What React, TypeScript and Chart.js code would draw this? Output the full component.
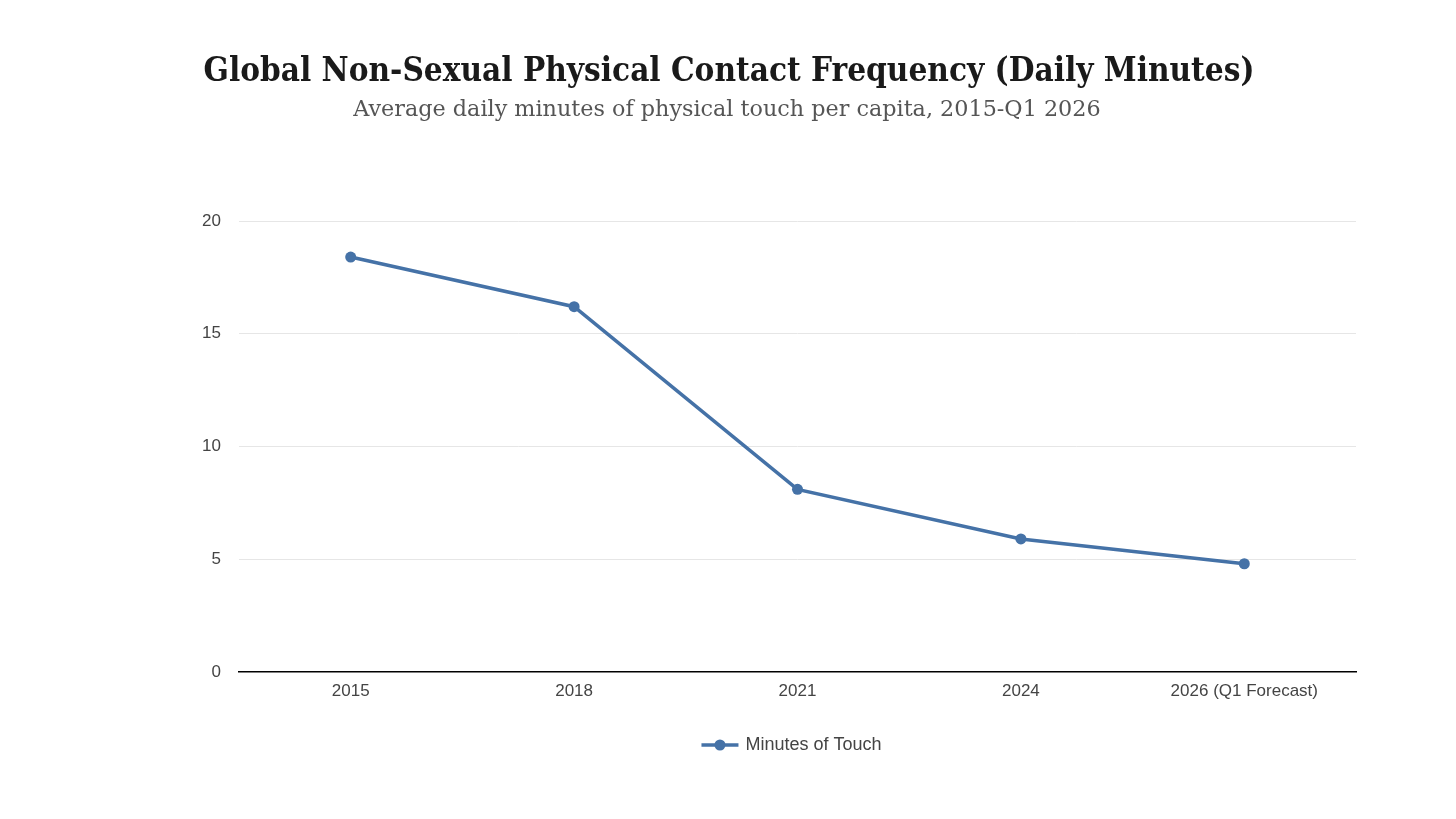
import React, { useEffect, useRef } from "react";
import { Chart, registerables } from "chart.js";

Chart.register(...registerables);

const categories = ["2015", "2018", "2021", "2024", "2026 (Q1 Forecast)"];
const minutesOfTouch = [18.4, 16.2, 8.1, 5.9, 4.8];
const yTicks = [0, 5, 10, 15, 20];
const seriesLabel = "Minutes of Touch";
const titleText = "Global Non-Sexual Physical Contact Frequency (Daily Minutes)";
const subtitleText = "Average daily minutes of physical touch per capita, 2015-Q1 2026";

const LINE_COLOR = "#4572a7";

const centeredLegend = {
  id: "centeredLegend",
  afterDraw(chart: any) {
    const ctx = chart.ctx as CanvasRenderingContext2D;
    const ds = chart.data.datasets[0];
    const area = chart.chartArea;
    const font = "18px 'Liberation Sans', Arial, sans-serif";
    ctx.save();
    ctx.font = font;
    const label = String(ds.label);
    const textW = ctx.measureText(label).width;
    const markerW = 37;
    const gap = 7;
    const total = markerW + gap + textW;
    const cx = (area.left + area.right) / 2 - 6;
    const y = 745;
    const x0 = cx - total / 2;
    ctx.strokeStyle = ds.borderColor;
    ctx.lineWidth = 3.5;
    ctx.beginPath();
    ctx.moveTo(x0, y);
    ctx.lineTo(x0 + markerW, y);
    ctx.stroke();
    ctx.fillStyle = ds.borderColor;
    ctx.beginPath();
    ctx.arc(x0 + markerW / 2, y, 5.5, 0, Math.PI * 2);
    ctx.fill();
    ctx.fillStyle = "#444444";
    ctx.textBaseline = "middle";
    ctx.textAlign = "left";
    ctx.fillText(label, x0 + markerW + gap, y);
    ctx.restore();
  },
};

export default function App() {
  const ref = useRef<HTMLCanvasElement | null>(null);

  useEffect(() => {
    document.body.style.margin = "0";
    if (!ref.current) return;
    const chart = new Chart(ref.current, {
      type: "line",
      data: {
        labels: categories,
        datasets: [
          {
            label: seriesLabel,
            data: minutesOfTouch,
            borderColor: LINE_COLOR,
            backgroundColor: LINE_COLOR,
            borderWidth: 3.5,
            pointRadius: 5.5,
            pointHoverRadius: 5.5,
            pointBackgroundColor: LINE_COLOR,
            pointBorderColor: LINE_COLOR,
            pointBorderWidth: 0,
            tension: 0,
            fill: false,
          },
        ],
      },
      options: {
        animation: false,
        responsive: false,
        devicePixelRatio: 1,
        layout: { padding: { left: 0, right: 100, top: 221, bottom: 92 } },
        plugins: {
          legend: { display: false },
          tooltip: { enabled: false },
        },
        scales: {
          x: {
            offset: true,
            grid: { display: false, drawTicks: false },
            border: { display: true, color: "#000000", width: 1.5 },
            ticks: {
              color: "#444444",
              font: { family: "Liberation Sans", size: 17 },
              padding: 9,
              maxRotation: 0,
            },
            afterFit: (scale: any) => {
              scale.height = 55;
            },
          },
          y: {
            min: 0,
            max: 20,
            afterBuildTicks: (scale: any) => {
              scale.ticks = yTicks.map((v) => ({ value: v }));
            },
            grid: {
              color: (ctx: any) => (ctx.tick && ctx.tick.value === 0 ? "rgba(0,0,0,0)" : "#e6e6e6"),
              drawTicks: false,
              lineWidth: 1,
            },
            border: { display: false },
            ticks: {
              color: "#444444",
              font: { family: "Liberation Sans", size: 17 },
              padding: 18,
            },
            afterFit: (scale: any) => {
              scale.width = 239;
            },
          },
        },
      },
      plugins: [centeredLegend],
    });
    return () => chart.destroy();
  }, []);

  return (
    <div style={{ position: "relative", width: 1456, height: 819, background: "#ffffff" }}>
      <div
        style={{
          position: "absolute",
          left: 0,
          width: 1458,
          top: 49,
          textAlign: "center",
          fontFamily: "'DejaVu Serif Condensed', 'DejaVu Serif', serif",
          fontWeight: "bold",
          fontSize: 33,
          lineHeight: "42px",
          color: "#1a1a1a",
          whiteSpace: "nowrap",
        }}
      >
        {titleText}
      </div>
      <div
        style={{
          position: "absolute",
          left: 0,
          width: 1454,
          top: 94,
          textAlign: "center",
          fontFamily: "'DejaVu Serif', serif",
          fontSize: 22.3,
          lineHeight: "28px",
          color: "#555555",
          whiteSpace: "nowrap",
        }}
      >
        {subtitleText}
      </div>
      <canvas ref={ref} width={1456} height={819} style={{ display: "block" }} />
    </div>
  );
}
